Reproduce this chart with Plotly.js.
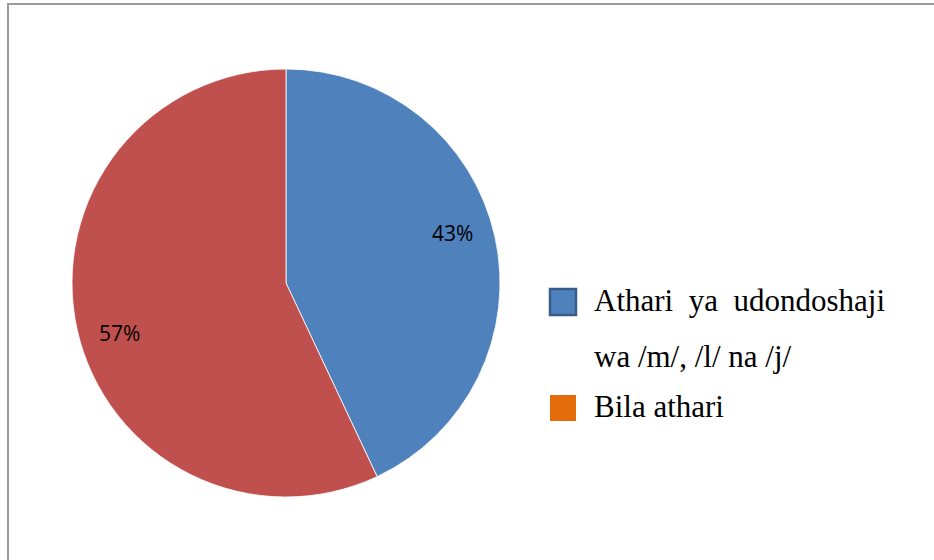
<!DOCTYPE html>
<html>
<head>
<meta charset="utf-8">
<script src="https://cdn.plot.ly/plotly-3.0.1.min.js"></script>
<style>
  html, body { margin: 0; padding: 0; background: #fff; }
  #chart { width: 934px; height: 560px; }
</style>
</head>
<body>
<div id="chart"></div>
<script>
// Data
const labels = ['Athari ya udondoshaji wa /m/, /l/ na /j/', 'Bila athari'];
const values = [43, 57];
const sliceColors = ['#4F81BD', '#C0504D'];
const legendColors = ['#4F81BD', '#E46C0A'];
const legendBorders = ['#385D8A', '#E46C0A'];
const legendLines = [
  ['Athari\u00a0\u00a0ya\u00a0\u00a0udondoshaji', 'wa /m/, /l/ na /j/'],
  ['Bila athari']
];

const W = 934, H = 560;
// pie placement in pixels
const cx = 286, cy = 283, R = 214;
const fx = x => x / W;
const fy = y => 1 - y / H;

const trace = {
  type: 'pie',
  labels: labels,
  values: values,
  sort: false,
  direction: 'clockwise',
  rotation: 0,
  textinfo: 'none',
  hoverinfo: 'label+percent',
  marker: { colors: sliceColors, line: { color: '#ffffff', width: 0.8 } },
  domain: { x: [fx(cx - R), fx(cx + R)], y: [fy(cy + R), fy(cy - R)] }
};

// percentage labels, placed near each slice's middle angle
const total = values.reduce((a, b) => a + b, 0);
const annotations = [];
let acc = 0;
values.forEach((v, i) => {
  const mid = acc + v / 2;
  acc += v;
  const ang = (mid / total) * 2 * Math.PI - 4 * Math.PI / 180;
  const r = 0.81 * R;
  annotations.push({
    xref: 'paper', yref: 'paper',
    x: fx(cx + r * Math.sin(ang)), y: fy(cy - r * Math.cos(ang)),
    xanchor: 'center', yanchor: 'middle',
    text: Math.round(v / total * 100) + '%',
    showarrow: false,
    font: { family: 'Open Sans', size: 21, color: '#000' }
  });
});

// chart frame + custom legend (swatch colours differ from slices in the original)
const shapes = [{
  type: 'rect', xref: 'paper', yref: 'paper',
  x0: fx(8), x1: fx(960), y0: fy(4), y1: fy(600),
  line: { color: '#9a9a9a', width: 2 }, fillcolor: 'rgba(0,0,0,0)'
}];
const legendTop = [302, 408];
const lineGap = 56;
legendLines.forEach((lines, i) => {
  const yc = legendTop[i];
  shapes.push({
    type: 'rect', xref: 'paper', yref: 'paper',
    x0: fx(550), x1: fx(576), y0: fy(yc - 13), y1: fy(yc + 13),
    fillcolor: legendColors[i],
    line: { color: legendBorders[i], width: i === 0 ? 2.5 : 0 }
  });
  lines.forEach((t, j) => {
    annotations.push({
      xref: 'paper', yref: 'paper',
      x: fx(592), y: fy(yc - 2 + j * lineGap),
      xanchor: 'left', yanchor: 'middle',
      text: t, showarrow: false,
      font: { family: 'Liberation Serif', size: 31, color: '#000' }
    });
  });
});

const layout = {
  width: W, height: H,
  margin: { l: 0, r: 0, t: 0, b: 0 },
  paper_bgcolor: '#ffffff',
  showlegend: false,
  shapes: shapes,
  annotations: annotations
};

Plotly.newPlot('chart', [trace], layout, { displayModeBar: false, staticPlot: true });
</script>
</body>
</html>
